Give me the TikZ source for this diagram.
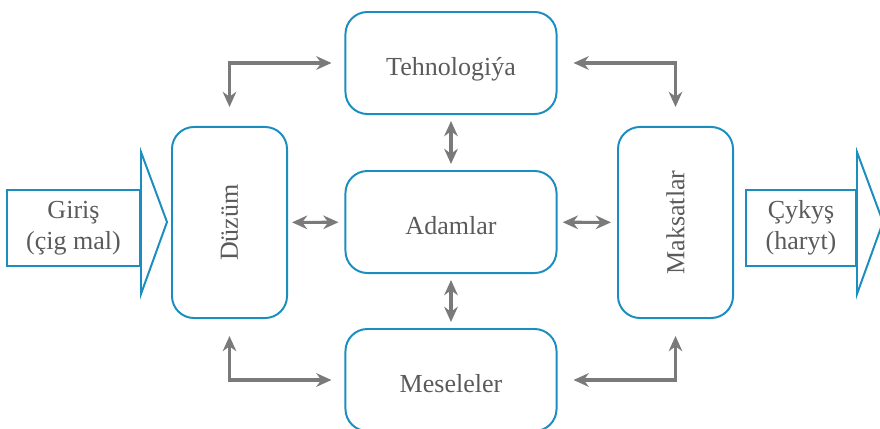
\documentclass[tikz,border=0pt]{standalone}
\usepackage{fontspec}
\setmainfont{Liberation Serif}
\usetikzlibrary{arrows.meta,calc,positioning}
\definecolor{boxblue}{HTML}{1B8DBE}
\definecolor{txtgray}{HTML}{5A5A5A}
\definecolor{arrgray}{HTML}{7A7A7A}

\begin{document}
\begin{tikzpicture}[x=0.025cm,y=-0.025cm,
    blk/.style={draw=boxblue, line width=1.4pt, rounded corners=0.55cm, text=txtgray,
        font=\fontsize{18.5}{22}\selectfont, inner sep=0pt},
    widebox/.style={blk, minimum width=5.275cm, minimum height=2.55cm,
        text height=18pt, text depth=0pt},
    tallbox/.style={blk, minimum width=2.875cm, minimum height=4.775cm},
    iobox/.style={draw=boxblue, line width=1.4pt, text=txtgray, align=center,
        font=\fontsize{18.5}{22}\selectfont, minimum height=1.9cm, inner sep=0pt},
    conn/.style={draw=arrgray, line width=2.2pt,
        {Stealth[length=0.38cm,width=0.34cm]}-{Stealth[length=0.38cm,width=0.34cm]}}]
    \useasboundingbox (0,0) rectangle (880,428);

    % Centre column
    \node[widebox] (tehno) at (451,63) {Tehnologiýa};
    \node[widebox] (adam) at (451,222) {Adamlar};
    \node[widebox] (mesel) at (451,380) {Meseleler};

    % Side columns
    \node[tallbox] (duzum) at (229.5,222.5) {\rotatebox{90}{Düzüm}};
    \node[tallbox] (maks) at (675.5,222.5) {\rotatebox{90}{Maksatlar}};

    % Input and output
    \node[iobox, minimum width=3.325cm] (giris) at (73.5,228) {Giriş\\(çig mal)};
    \draw[boxblue, line width=1.4pt] (141,152) -- (167,222) -- (141,294) -- cycle;
    \node[iobox, minimum width=2.75cm] (cykys) at (801,228) {Çykyş\\(haryt)};
    \draw[boxblue, line width=1.4pt] (857,152) -- (883,222) -- (857,294) -- cycle;

    % Corner arrows
    \draw[conn, shorten <=0.325cm, shorten >=0.475cm] (tehno.west) -| (duzum.north);
    \draw[conn, shorten <=0.4cm, shorten >=0.475cm] (tehno.east) -| (maks.north);
    \draw[conn, shorten <=0.325cm, shorten >=0.425cm] (mesel.west) -| (duzum.south);
    \draw[conn, shorten <=0.4cm, shorten >=0.425cm] (mesel.east) -| (maks.south);

    % Short arrows
    \draw[conn, shorten <=0.15cm, shorten >=0.15cm] (tehno) -- (adam);
    \draw[conn, shorten <=0.15cm, shorten >=0.15cm] (adam) -- (mesel);
    \draw[conn, shorten <=0.1cm, shorten >=0.15cm] (duzum) -- (adam);
    \draw[conn, shorten <=0.13cm, shorten >=0.15cm] (adam) -- (maks);
\end{tikzpicture}
\end{document}
